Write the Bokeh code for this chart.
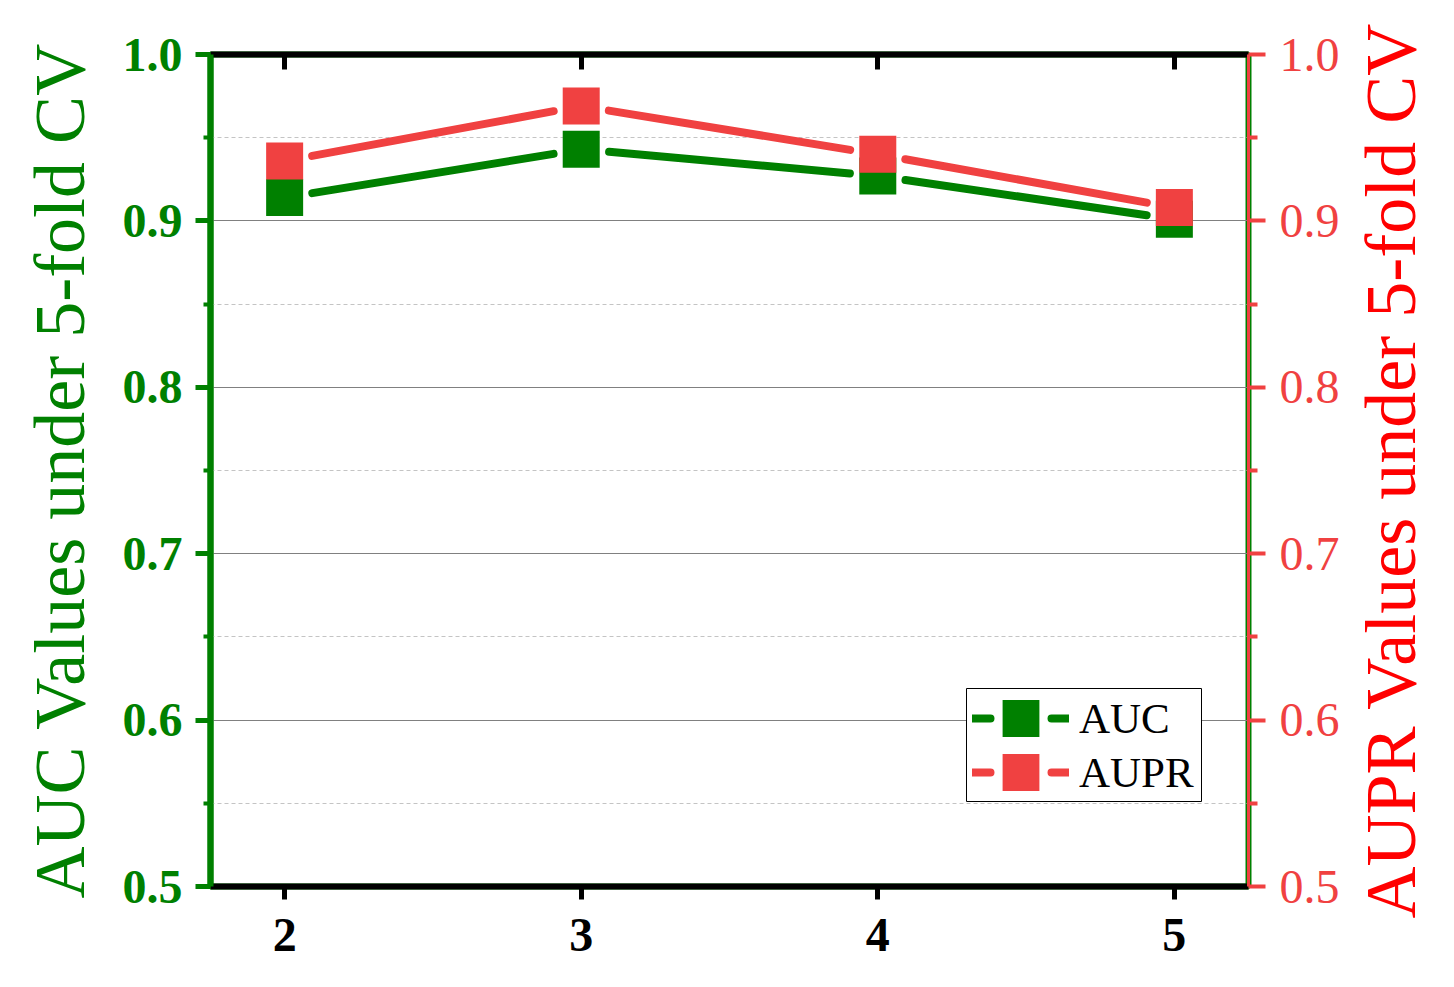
import math
from bokeh.plotting import figure
from bokeh.layouts import row
from bokeh.models import (Range1d, LinearAxis, FixedTicker, Legend, LegendItem,
                          BoxAnnotation, PrintfTickFormatter)
from bokeh.embed import file_html
from bokeh.resources import INLINE

# ---- data ----
folds = [2, 3, 4, 5]
auc = [0.914, 0.943, 0.927, 0.901]
aupr = [0.936, 0.969, 0.940, 0.908]
y_major = [0.5, 0.6, 0.7, 0.8, 0.9, 1.0]
y_minor = [0.55, 0.65, 0.75, 0.85, 0.95]
series_names = ["AUC", "AUPR"]
left_title = "AUC Values under 5-fold CV"
right_title = "AUPR Values under 5-fold CV"

GREEN = "#008000"
RED = "#f04141"
TITLE_RED = "#ff0000"
FONT = "Liberation Serif"

X0, X1 = 1.75, 5.25
Y0, Y1 = 0.5, 1.0
FW, FH = 1038, 832
ML, MT, MR, MB = 210, 54, 99, 85

p = figure(frame_width=FW, frame_height=FH,
           x_range=Range1d(X0, X1), y_range=Range1d(Y0, Y1),
           output_backend="svg", toolbar_location=None,
           min_border_left=ML, min_border_right=MR,
           min_border_top=MT, min_border_bottom=MB,
           background_fill_color="white", border_fill_color="white")
p.extra_y_ranges = {"right": Range1d(Y0, Y1)}
p.outline_line_color = GREEN
p.outline_line_width = 6

yt = FixedTicker(ticks=y_major, minor_ticks=y_minor)
xt = FixedTicker(ticks=folds, minor_ticks=[])
yfmt = PrintfTickFormatter(format="%.1f")

# grid
p.xgrid.visible = False
p.ygrid.ticker = yt
p.ygrid.grid_line_color = "#808080"
p.ygrid.grid_line_width = 1
p.ygrid.minor_grid_line_color = "#c4c4c4"
p.ygrid.minor_grid_line_width = 1
p.ygrid.minor_grid_line_dash = "4 3"

# left axis
ya = p.yaxis[0]
ya.ticker = yt
ya.formatter = yfmt
ya.axis_line_color = GREEN
ya.axis_line_width = 6
ya.major_tick_line_color = GREEN
ya.major_tick_line_width = 5
ya.major_tick_out = 15
ya.major_tick_in = 0
ya.minor_tick_line_color = GREEN
ya.minor_tick_line_width = 4
ya.minor_tick_out = 7
ya.minor_tick_in = 0
ya.major_label_text_font = FONT
ya.major_label_text_font_size = "48px"
ya.major_label_text_font_style = "bold"
ya.major_label_text_color = GREEN
ya.major_label_standoff = 13
ya.axis_label = left_title
ya.axis_label_text_font = FONT
ya.axis_label_text_font_size = "72px"
ya.axis_label_text_font_style = "normal"
ya.axis_label_text_color = GREEN
ya.axis_label_standoff = 20

# bottom axis
xa = p.xaxis[0]
xa.ticker = xt
xa.axis_line_color = "black"
xa.axis_line_width = 6
xa.major_tick_line_color = "black"
xa.major_tick_line_width = 5
xa.major_tick_out = 13
xa.major_tick_in = 0
xa.minor_tick_line_color = None
xa.major_label_text_font = FONT
xa.major_label_text_font_size = "48px"
xa.major_label_text_font_style = "bold"
xa.major_label_text_color = "black"
xa.major_label_standoff = 19

# top axis
ta = LinearAxis(ticker=FixedTicker(ticks=folds, minor_ticks=[]),
                major_label_overrides={f: "" for f in folds})
ta.axis_line_color = "black"
ta.axis_line_width = 6
ta.major_tick_line_color = "black"
ta.major_tick_line_width = 5
ta.major_tick_in = 15
ta.major_tick_out = 0
ta.minor_tick_line_color = None
ta.major_label_text_font_size = "1px"
p.add_layout(ta, "above")

# right axis
ra = LinearAxis(y_range_name="right", ticker=FixedTicker(ticks=y_major, minor_ticks=y_minor),
                formatter=PrintfTickFormatter(format="%.1f"))
ra.axis_line_color = RED
ra.axis_line_width = 3
ra.major_tick_line_color = RED
ra.major_tick_line_width = 4
ra.major_tick_out = 17
ra.major_tick_in = 0
ra.minor_tick_line_color = RED
ra.minor_tick_line_width = 4
ra.minor_tick_out = 9
ra.minor_tick_in = 0
ra.major_label_text_font = FONT
ra.major_label_text_font_size = "48px"
ra.major_label_text_font_style = "normal"
ra.major_label_text_color = RED
ra.major_label_standoff = 14
p.add_layout(ra, "right")

# lines with gaps around markers (gap computed in pixel space)
SX = FW / (X1 - X0)
SY = FH / (Y1 - Y0)
GAP = 28


def gapped(xs, ys):
    a0, b0, a1, b1 = [], [], [], []
    for i in range(len(xs) - 1):
        dx = xs[i + 1] - xs[i]
        dy = ys[i + 1] - ys[i]
        L = math.hypot(dx * SX, dy * SY)
        f = GAP / L
        a0.append(xs[i] + dx * f)
        b0.append(ys[i] + dy * f)
        a1.append(xs[i + 1] - dx * f)
        b1.append(ys[i + 1] - dy * f)
    return a0, b0, a1, b1


for vals, col in ((auc, GREEN), (aupr, RED)):
    a0, b0, a1, b1 = gapped(folds, vals)
    p.segment(a0, b0, a1, b1, line_color=col, line_width=8, line_cap="round")

m_auc = p.scatter(folds, auc, marker="square", size=37, fill_color=GREEN, line_color=None)
m_aupr = p.scatter(folds, aupr, marker="square", size=37, fill_color=RED, line_color=None)

# legend swatch helpers (single-point lines draw nothing in the plot)
l_auc = p.line(folds[:1], auc[:1], line_color=GREEN, line_width=8, line_cap="round", line_dash="18 61")
l_aupr = p.line(folds[:1], aupr[:1], line_color=RED, line_width=8, line_cap="round", line_dash="18 61")

box = BoxAnnotation(left=ML + 756, right=ML + 991, top=MT + 634, bottom=MT + 747,
                    left_units="canvas", right_units="canvas",
                    top_units="canvas", bottom_units="canvas",
                    fill_color="white", fill_alpha=1.0,
                    line_color="black", line_width=1, line_alpha=1.0)
p.add_layout(box)

common = dict(orientation="vertical", glyph_width=97, glyph_height=92, spacing=0,
              padding=0, margin=0, label_standoff=10, label_text_font=FONT,
              label_text_font_size="43px", label_text_color="black",
              border_line_color=None, background_fill_alpha=0.0)
leg1 = Legend(items=[LegendItem(label=series_names[0], renderers=[l_auc, m_auc])],
              location=(762, 122), **common)
leg2 = Legend(items=[LegendItem(label=series_names[1], renderers=[l_aupr, m_aupr])],
              location=(762, 68), **common)
p.add_layout(leg1, "center")
p.add_layout(leg2, "center")

# narrow companion figure that carries the right-hand title (reads bottom-to-top)
p2 = figure(frame_width=1, frame_height=FH, x_range=Range1d(0, 1), y_range=Range1d(Y0, Y1),
            output_backend="svg", toolbar_location=None,
            min_border_left=0, min_border_right=0, min_border_top=MT, min_border_bottom=MB,
            background_fill_color="white", border_fill_color="white")
p2.outline_line_color = None
p2.xaxis.visible = False
p2.grid.visible = False
ya2 = p2.yaxis[0]
ya2.ticker = FixedTicker(ticks=[], minor_ticks=[])
ya2.axis_line_color = None
ya2.major_tick_line_color = None
ya2.minor_tick_line_color = None
ya2.major_tick_out = 0
ya2.minor_tick_out = 0
ya2.major_label_standoff = 0
ya2.axis_label = right_title
ya2.axis_label_text_font = FONT
ya2.axis_label_text_font_size = "72px"
ya2.axis_label_text_font_style = "normal"
ya2.axis_label_text_color = TITLE_RED
ya2.axis_label_standoff = 0

layout = row(p, p2)
open("out.html", "w").write(file_html(layout, INLINE))
